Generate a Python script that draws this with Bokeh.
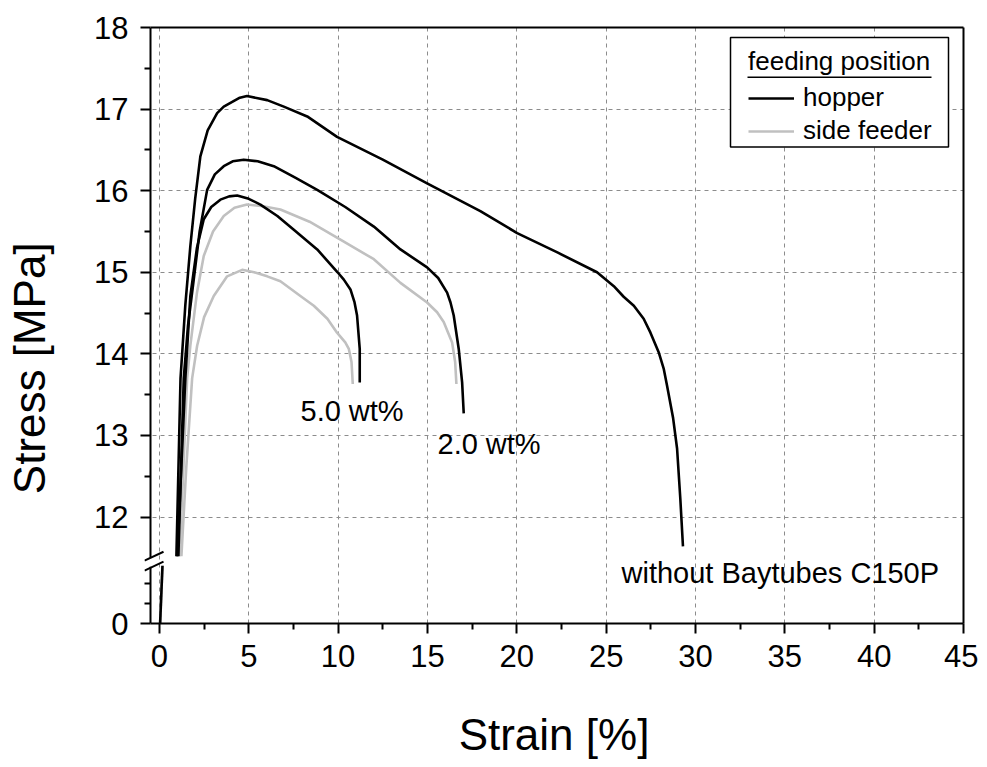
import numpy as np
from bokeh.plotting import figure
from bokeh.models import (Range1d, FixedTicker, CustomJSTickFormatter, Label, BoxAnnotation,
                          Legend, LegendItem, LinearAxis)
from bokeh.embed import file_html
from bokeh.resources import INLINE

# ---------------- data (strain in %, stress in MPa) ----------------
# hopper, without Baytubes C150P
hop0_strain = [0.95, 1.18, 1.45, 1.73, 2.0, 2.29, 2.7, 3.23, 3.6, 4.5, 4.9, 6.03, 6.96, 8.27, 9.94,
               12.5, 14.98, 17.96, 20.02, 22.3, 24.49, 25.43, 25.98, 26.55, 27.1, 27.48, 27.94, 28.22,
               28.41, 28.75, 28.97, 29.15, 29.3]
hop0_stress = [11.52, 13.7, 14.6, 15.32, 15.9, 16.42, 16.74, 16.95, 17.03, 17.14, 17.16, 17.11, 17.03, 16.91, 16.66,
               16.38, 16.09, 15.75, 15.48, 15.24, 15.00, 14.83, 14.70, 14.59, 14.43, 14.26, 14.02, 13.82,
               13.61, 13.21, 12.84, 12.23, 11.64]
# hopper, 2.0 wt%
hop2_strain = [1.06, 1.36, 1.6, 1.92, 2.25, 2.67, 3.1, 3.6, 4.1, 4.72, 5.5, 6.4, 7.6, 8.83, 10.4, 12.0,
               13.49, 14.98, 15.6, 16.1, 16.29, 16.47, 16.75, 16.94, 17.03]
hop2_stress = [11.52, 13.7, 14.35, 14.91, 15.5, 16.01, 16.2, 16.30, 16.36, 16.38, 16.36, 16.30, 16.16, 16.01, 15.80, 15.56,
               15.28, 15.06, 14.93, 14.75, 14.63, 14.47, 14.06, 13.65, 13.27]
# hopper, 5.0 wt%
hop5_strain = [1.0, 1.45, 1.73, 2.1, 2.48, 2.9, 3.41, 3.9, 4.35, 5.0, 5.65, 6.6, 7.52, 8.83, 9.97,
               10.32, 10.69, 10.92, 11.06, 11.21, 11.21]
hop5_stress = [11.52, 13.7, 14.71, 15.3, 15.65, 15.8, 15.89, 15.93, 15.94, 15.9, 15.83, 15.69, 15.52, 15.28, 15.0,
               14.91, 14.79, 14.63, 14.47, 14.06, 13.65]
# side feeder, 2.0 wt%
side2_strain = [1.12, 1.3, 1.55, 1.73, 2.1, 2.48, 3.0, 3.6, 4.2, 4.9, 5.8, 6.77, 8.4, 10.13, 12.0,
                13.49, 14.98, 15.54, 15.91, 16.38, 16.55, 16.62]
side2_stress = [11.52, 12.4, 13.7, 14.10, 14.75, 15.2, 15.5, 15.69, 15.79, 15.83, 15.81, 15.77, 15.62, 15.40, 15.16,
                14.87, 14.63, 14.51, 14.39, 14.14, 13.9, 13.63]
# side feeder, 5.0 wt%
side5_strain = [1.23, 1.5, 1.83, 2.11, 2.5, 3.04, 3.79, 4.63, 5.3, 6.03, 6.77, 7.89, 8.64, 9.4, 9.94,
                10.4, 10.6, 10.75, 10.82]
side5_stress = [11.52, 12.6, 13.7, 14.10, 14.45, 14.71, 14.95, 15.03, 15.0, 14.95, 14.89, 14.71, 14.59, 14.43, 14.26,
                14.14, 14.06, 13.90, 13.63]
# initial rise shown in the lower (0 ...) segment of the broken stress axis
low_strain = [0.02, 0.17]
low_stress = [-0.4, 2.9]

x_ticks = [0, 5, 10, 15, 20, 25, 30, 35, 40, 45]
x_minor = [2.5, 7.5, 12.5, 17.5, 22.5, 27.5, 32.5, 37.5, 42.5]
y_ticks_upper = [12, 13, 14, 15, 16, 17, 18]
y_minor_upper = [12.5, 13.5, 14.5, 15.5, 16.5, 17.5]
y_minor_lower = [1, 2]

# ---------------- layout / broken-axis mapping ----------------
W, H = 978, 761
FRAME_L, FRAME_R, FRAME_T, FRAME_B = 144, 963, 27, 626   # frame edges in page px
AXIS_PX = 150                                            # drawn stress axis line
PX_PER_X = 813 / 45.5
PX_PER_Y = 82.0
X_START = -0.5 - (AXIS_PX - FRAME_L) / PX_PER_X
Y0 = 12 - (FRAME_B - 519) / PX_PER_Y     # display position of stress 0 (lower segment)
LOW_SCALE = 20 / PX_PER_Y                # lower segment: 20 px per MPa


def low_to_disp(v):
    return Y0 + np.asarray(v, dtype=float) * LOW_SCALE


def px_x(px):
    return -0.5 + (px - AXIS_PX) / PX_PER_X


def px_y(py):
    return 18 - (py - 27) / PX_PER_Y


FONT = "Liberation Sans"
BLACK = "#000000"
GREY = "#c0c0c0"
NBSP = "\u00a0"

p = figure(width=W, height=H, x_range=Range1d(X_START, 45), y_range=Range1d(Y0, 18),
           output_backend="svg", toolbar_location=None,
           min_border_left=FRAME_L, min_border_right=W - FRAME_R, min_border_top=FRAME_T,
           min_border_bottom=H - FRAME_B)
p.outline_line_color = None
p.background_fill_color = "white"
p.border_fill_color = "white"

# ---- bottom axis
xa = p.xaxis[0]
xa.ticker = FixedTicker(ticks=x_ticks, minor_ticks=x_minor)
xa.bounds = (-0.5, 45)
xa.axis_label = "Strain [%]"
xa.axis_label_text_font = FONT
xa.axis_label_text_font_size = "44px"
xa.axis_label_text_font_style = "normal"
xa.axis_label_text_color = BLACK
xa.axis_label_standoff = 40
xa.major_tick_in = 0
xa.major_tick_out = 10
xa.minor_tick_in = 0
xa.minor_tick_out = 6
xa.major_label_standoff = 11

# ---- left axis (line drawn separately because of the break)
ya = p.yaxis[0]
ya.ticker = FixedTicker(ticks=[Y0] + y_ticks_upper,
                        minor_ticks=list(low_to_disp(y_minor_lower)) + y_minor_upper)
ya.formatter = CustomJSTickFormatter(code="return tick < 11 ? '0' : tick.toFixed(0);")
ya.axis_line_color = None
ya.major_tick_in = AXIS_PX - FRAME_L
ya.major_tick_out = 10 - (AXIS_PX - FRAME_L)
ya.minor_tick_in = AXIS_PX - FRAME_L
ya.minor_tick_out = 0
ya.major_label_standoff = 12

for ax in (xa, ya):
    ax.axis_line_width = 2
    ax.major_tick_line_width = 2
    ax.minor_tick_line_width = 2
    ax.major_tick_line_color = BLACK
    ax.minor_tick_line_color = BLACK
    ax.major_label_text_font = FONT
    ax.major_label_text_font_size = "31px"
    ax.major_label_text_color = BLACK
xa.axis_line_color = BLACK

# ---- y axis title (label-only axis; trailing no-break spaces shift it down like the original)
ylab = LinearAxis(ticker=FixedTicker(ticks=[]),
                  axis_label="Stress [MPa]" + NBSP * 7, axis_label_text_font=FONT,
                  axis_label_text_font_size="44px", axis_label_text_font_style="normal",
                  axis_label_text_color=BLACK, axis_label_standoff=38,
                  axis_line_color=None, major_tick_line_color=None, minor_tick_line_color=None,
                  major_tick_out=0, major_tick_in=0, minor_tick_out=0, minor_tick_in=0,
                  major_label_standoff=0, major_label_text_font_size="0px")
p.add_layout(ylab, "left")

# ---- top / right frame lines
top = LinearAxis(ticker=FixedTicker(ticks=[]), bounds=(-0.5, 45), axis_line_width=2,
                 axis_line_color=BLACK, major_tick_out=0, major_tick_in=0, minor_tick_out=0,
                 minor_tick_in=0, major_label_standoff=0, major_label_text_font_size="0px")
right = LinearAxis(ticker=FixedTicker(ticks=[]), axis_line_width=2,
                   axis_line_color=BLACK, major_tick_out=0, major_tick_in=0, minor_tick_out=0,
                   minor_tick_in=0, major_label_standoff=0, major_label_text_font_size="0px")
p.add_layout(top, "above")
p.add_layout(right, "right")

# ---- grid
p.xgrid.ticker = FixedTicker(ticks=x_ticks[:-1])
p.ygrid.ticker = FixedTicker(ticks=y_ticks_upper[:-1])
p.grid.grid_line_color = "#8c8c8c"
p.grid.grid_line_dash = "4 4"
p.grid.grid_line_width = 1

# ---- broken stress axis line + break marks (inside the frame)
BREAK_TOP_PX, BREAK_BOT_PX = 560, 569
p.line([-0.5, -0.5], [18, px_y(BREAK_TOP_PX)], line_color=BLACK, line_width=2)
p.line([-0.5, -0.5], [px_y(BREAK_BOT_PX), Y0], line_color=BLACK, line_width=2)
for yc in (BREAK_TOP_PX, BREAK_BOT_PX + 1):
    p.line([px_x(FRAME_L), px_x(163)], [px_y(yc + 0.47 * 6), px_y(yc - 0.47 * 13)],
           line_color=BLACK, line_width=2)

# ---- curves (grey first, black on top)
LW = 2.6
p.line(low_strain, low_to_disp(low_stress), line_color=GREY, line_width=LW)
r_side2 = p.line(side2_strain, side2_stress, line_color=GREY, line_width=LW, line_join="round")
p.line(side5_strain, side5_stress, line_color=GREY, line_width=LW, line_join="round")
p.line(low_strain, low_to_disp(low_stress), line_color=BLACK, line_width=LW)
r_hop0 = p.line(hop0_strain, hop0_stress, line_color=BLACK, line_width=LW, line_join="round")
p.line(hop2_strain, hop2_stress, line_color=BLACK, line_width=LW, line_join="round")
p.line(hop5_strain, hop5_stress, line_color=BLACK, line_width=LW, line_join="round")

# ---- curve annotations
for tx, ty, txt in [(px_x(300), px_y(412), "5.0 wt%"),
                    (px_x(437), px_y(446), "2.0 wt%"),
                    (px_x(621), px_y(575), "without Baytubes C150P")]:
    p.add_layout(Label(x=tx, y=ty, text=txt, text_font=FONT, text_font_size="29px",
                       text_baseline="middle", text_align="left", text_color=BLACK))

# ---- legend (box drawn as annotation, legend itself transparent)
p.add_layout(BoxAnnotation(left=px_x(730), right=px_x(948), top=px_y(37), bottom=px_y(147),
                           fill_color="white", fill_alpha=1, line_color=BLACK, line_alpha=1,
                           line_width=1.5))
legend = Legend(items=[LegendItem(label="hopper", renderers=[r_hop0]),
                       LegendItem(label="side feeder", renderers=[r_side2])],
                title="feeding position", location=(730 - FRAME_L, FRAME_B - 167),
                padding=17, spacing=2, title_standoff=5, label_height=30, glyph_height=30,
                glyph_width=46, label_standoff=9, margin=0,
                label_text_font=FONT, label_text_font_size="26px", label_text_color=BLACK,
                title_text_font=FONT, title_text_font_size="26px", title_text_font_style="normal",
                title_text_color=BLACK,
                border_line_color=BLACK, border_line_alpha=0.001, background_fill_alpha=0)
p.add_layout(legend)
p.add_layout(BoxAnnotation(left=px_x(747), right=px_x(931), top=px_y(76.2), bottom=px_y(77.8),
                           fill_color=BLACK, fill_alpha=1, line_color=None))

open("out.html", "w").write(file_html(p, INLINE))
